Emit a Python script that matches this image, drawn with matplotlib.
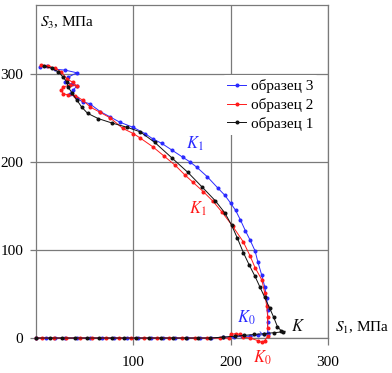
import numpy as np
import matplotlib.pyplot as plt

plt.rcParams['font.family'] = 'serif'
plt.rcParams['font.serif'] = ['Liberation Serif', 'DejaVu Serif']
plt.rcParams['mathtext.fontset'] = 'stix'

# образец 3 (blue): loading curve and part along S1 axis
s3_curve_x = [4, 11, 20, 30, 42, 33, 30, 37, 42, 38, 35, 42, 48, 55, 66, 76, 86, 100, 112, 120, 129, 140,
              151, 158, 165, 176, 187, 194, 200, 205, 210, 215, 220, 225, 228, 232, 235, 237, 238, 238, 238]
s3_curve_y = [308, 309, 305, 304, 301, 296, 290, 288, 286, 281, 277, 272, 268, 266, 257, 251, 245, 239, 232,
              226, 221, 213, 205, 200, 194, 183, 170, 162, 153, 145, 134, 122, 111, 99, 86, 71, 58, 45, 32, 18, 6]
s3_axis_x = [0, 10, 20, 30, 42, 55, 68, 80, 93, 105, 118, 130, 143, 155, 168, 180, 192, 203, 212, 220, 228, 234, 238]
s3_axis_y = [0, 0, 0, 0, 0, 0, 0, 0, 0, 0, 0, 0, 0, 0, 0, 0, 1, 1, 2, 2, 3, 4, 5]

# образец 2 (red)
s2_curve_x = [5, 12, 20, 26, 32, 38, 42, 35, 28, 26, 28, 33, 40, 48, 56, 66, 76, 89, 100, 107, 120, 131,
              143, 153, 161, 172, 182, 191, 202, 213, 220, 225, 232, 235, 237, 238, 238]
s2_curve_y = [310, 309, 306, 302, 294, 290, 286, 287, 285, 281, 277, 276, 275, 270, 262, 256, 250, 238, 232,
              227, 217, 207, 196, 185, 177, 166, 155, 143, 127, 109, 93, 80, 66, 51, 36, 24, 11]
s2_axis_x = [0, 6, 18, 31, 45, 58, 72, 85, 98, 111, 124, 137, 150, 163, 176, 189, 198, 200, 205, 210, 213,
             220, 228, 232, 235, 238]
s2_axis_y = [0, 0, 0, 0, 0, 0, 0, 0, 0, 0, 0, 0, 0, 0, 0, 0, 0, 4, 5, 4, 1, 0, -3, -5, -3, 2]

# образец 1 (black)
s1_curve_x = [8, 16, 23, 28, 32, 33, 37, 42, 47, 53, 64, 78, 94, 107, 122, 140, 156, 171, 184, 194, 201,
              207, 213, 219, 225, 230, 235, 240, 244, 248, 252]
s1_curve_y = [309, 306, 302, 296, 290, 285, 278, 270, 262, 255, 249, 244, 239, 234, 222, 204, 188, 171,
              156, 142, 128, 113, 97, 83, 70, 58, 46, 34, 24, 13, 8]
s1_axis_x = [0, 14, 27, 40, 52, 65, 78, 90, 103, 116, 128, 141, 154, 166, 179, 192, 204, 214, 224, 234, 244, 254]
s1_axis_y = [0, 0, 0, 0, 0, 0, 0, 0, 0, 0, 0, 0, 0, 0, 0, 1, 2, 3, 4, 5, 6, 7]

blue = '#2a2aff'
red = '#ff1a1a'
black = '#111111'
grid_c = '#7a7a7a'

fig = plt.figure(figsize=(3.92, 3.73), dpi=100)
ax = fig.add_axes([0.0918, 0.0938, 0.745, 0.893])
ax.set_xlim(0, 300)
ax.set_ylim(0, 378)

style = dict(lw=0.7, marker='o', ms=1.9, clip_on=False, zorder=3)
ax.plot(s3_curve_x, s3_curve_y, color=blue, label='образец 3', **style)
ax.plot(s3_axis_x, s3_axis_y, color=blue, **style)
ax.plot(s2_curve_x, s2_curve_y, color=red, label='образец 2', **style)
ax.plot(s2_axis_x, s2_axis_y, color=red, **style)
ax.plot(s1_curve_x, s1_curve_y, color=black, label='образец 1', **style)
ax.plot(s1_axis_x, s1_axis_y, color=black, **style)

ax.set_xticks([100, 200, 300])
ax.set_yticks([0, 100, 200, 300])
ax.grid(True, color=grid_c, lw=0.9)
ax.set_axisbelow(True)
for s in ax.spines.values():
    s.set_color(grid_c)
    s.set_linewidth(0.9)
ax.tick_params(axis='x', length=5, width=0.9, color=grid_c, pad=8, labelsize=11)
ax.tick_params(axis='y', length=4, width=0.9, color=grid_c, pad=5, labelsize=11)

leg = ax.legend(loc='upper left', bbox_to_anchor=(0.64, 0.79), fontsize=11, frameon=True,
                handlelength=1.2, handletextpad=0.35, labelspacing=0.3, borderpad=0.3,
                borderaxespad=0)
leg.get_frame().set_facecolor('white')
leg.get_frame().set_edgecolor('none')
leg.get_frame().set_alpha(1)

ax.text(4, 358, '$S_3$, МПа', fontsize=11, va='center', ha='left')
ax.text(307, 11, '$S_1$, МПа', fontsize=11, va='center', ha='left', clip_on=False)

lk = dict(arrowstyle='-', lw=0.6)
ax.annotate('$K_1$', xy=(150, 206), xytext=(163, 220), color=blue, fontsize=12,
            ha='center', va='center', arrowprops=dict(color=blue, **lk))
ax.annotate('$K_1$', xy=(184, 156), xytext=(166, 147), color=red, fontsize=12,
            ha='center', va='center', arrowprops=dict(color=red, **lk))
ax.annotate('$K_0$', xy=(232, 5), xytext=(216, 23), color=blue, fontsize=12,
            ha='center', va='center', arrowprops=dict(color=blue, **lk))
ax.annotate('$K_0$', xy=(232, -2), xytext=(232, -22), color=red, fontsize=12,
            ha='center', va='center', annotation_clip=False, arrowprops=dict(color=red, **lk))
ax.annotate('$K$', xy=(251, 6), xytext=(269, 12), color=black, fontsize=12,
            ha='center', va='center', arrowprops=dict(color=black, **lk))

fig.savefig('out.png', dpi=100)
